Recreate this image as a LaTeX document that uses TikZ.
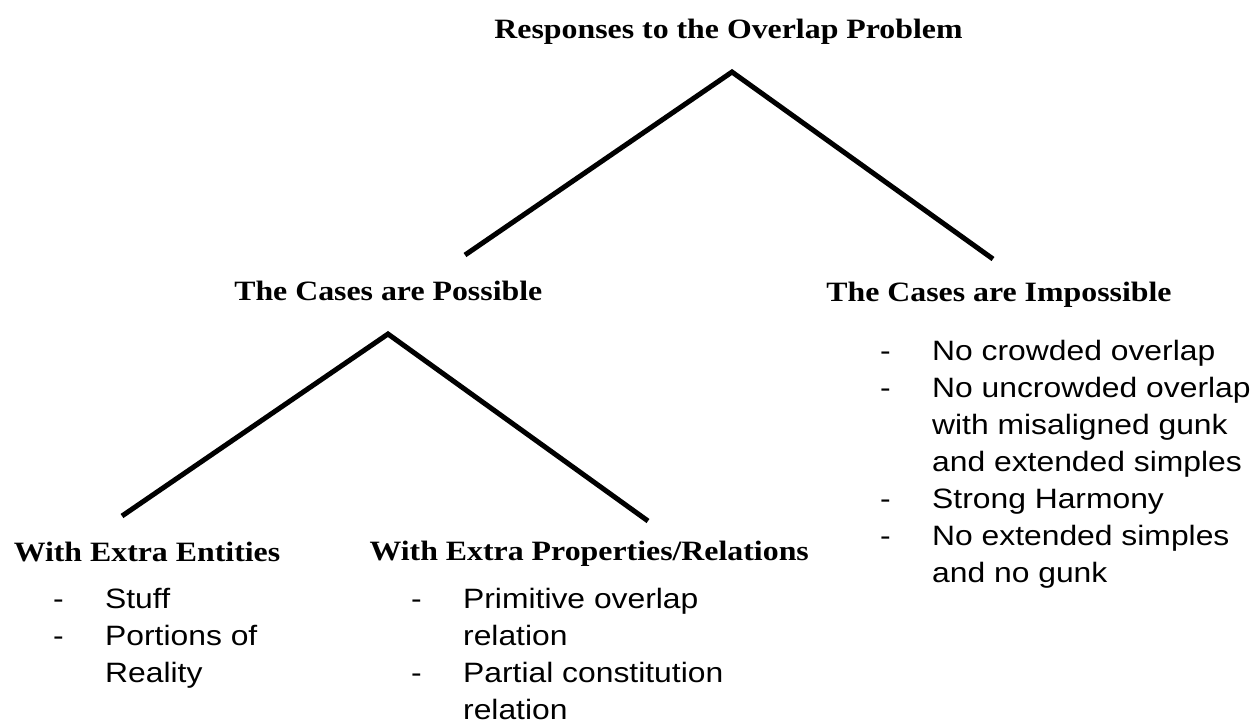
\documentclass[tikz,border=0pt]{standalone}
\usepackage{fontspec}
\usepackage{graphicx}
\setmainfont{Liberation Serif}
\setsansfont{Liberation Sans}
\tikzset{
  head/.style={font=\fontsize{28}{37}\selectfont\bfseries, inner sep=0pt, anchor=base},
  items/.style={font=\fontsize{28}{37}\selectfont\sffamily, inner sep=0pt, anchor=base west, align=left},
  branch/.style={line width=5pt, black}
}
\newcommand{\wide}[1]{\scalebox{1.137}[1]{#1}}
\newcommand{\itm}[1]{\makebox[45.7pt][l]{-}#1}
\newcommand{\cnt}[1]{\makebox[45.7pt][l]{}#1}
\begin{document}
\begin{tikzpicture}[x=1pt,y=-1pt]
\useasboundingbox (0,0) rectangle (1255,723);
% headings
\node[head] (root) at (728.5,38) {\wide{Responses to the Overlap Problem}};
\node[head] (poss) at (388.3,300.7) {\wide{The Cases are Possible}};
\node[head] (imp) at (999,301) {\wide{The Cases are Impossible}};
\node[head] (ent) at (147,561.7) {\wide{With Extra Entities}};
\node[head,anchor=base east] (prop) at (809,560) {\wide{With Extra Properties/Relations}};
% connectors
\coordinate (rtop) at (732,72);
\coordinate (rl) at (465,255);
\coordinate (rr) at (993,259);
\coordinate (ptop) at (388,334);
\coordinate (pl) at (122,516);
\coordinate (pr) at (648,521);
\draw[branch] (rl) -- (rtop) -- (rr);
\draw[branch] (pl) -- (ptop) -- (pr);
% lists
\node[items] (implist) at (880,360) {\wide{\begin{tabular}[t]{@{}l@{}}
\itm{No crowded overlap}\\
\itm{No uncrowded overlap}\\
\cnt{with misaligned gunk}\\
\cnt{and extended simples}\\
\itm{Strong Harmony}\\
\itm{No extended simples}\\
\cnt{and no gunk}
\end{tabular}}};
\node[items] (entlist) at (53,608) {\wide{\begin{tabular}[t]{@{}l@{}}
\itm{Stuff}\\
\itm{Portions of}\\
\cnt{Reality}
\end{tabular}}};
\node[items] (proplist) at (411,608) {\wide{\begin{tabular}[t]{@{}l@{}}
\itm{Primitive overlap}\\
\cnt{relation}\\
\itm{Partial constitution}\\
\cnt{relation}
\end{tabular}}};
\end{tikzpicture}
\end{document}
